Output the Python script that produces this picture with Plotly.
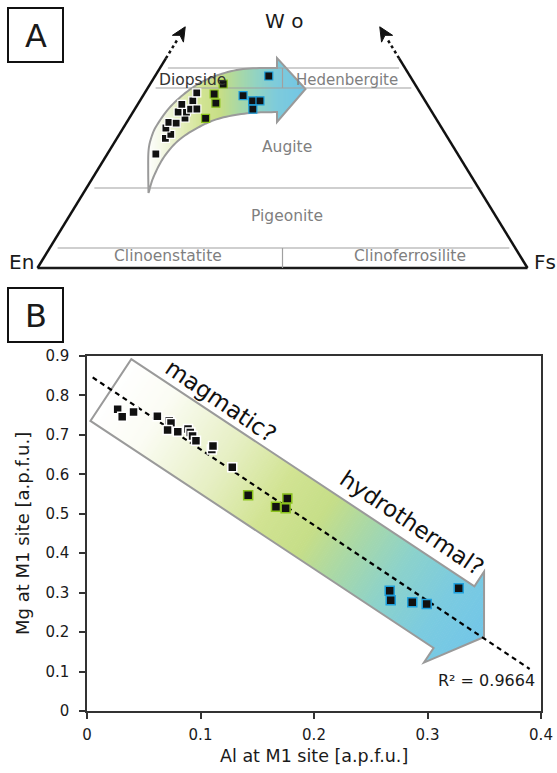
import numpy as np
import plotly.graph_objects as go

FIG_W, FIG_H = 557, 773

# ---------------- Panel A: clinopyroxene compositions (mol %) ----------------
wo_magmatic = [28.5, 32.4, 33.4, 35.0, 36.4, 36.2, 37.5, 39.0, 39.0, 40.9, 41.8, 39.7, 39.75, 43.8]
en_magmatic = [61.6, 57.7, 56.1, 56.3, 55.0, 53.6, 51.15, 51.8, 50.1, 50.1, 47.4, 48.9, 47.6, 45.6]
fs_magmatic = [9.9, 9.9, 10.5, 8.7, 8.6, 10.2, 11.35, 9.2, 10.9, 9.0, 10.8, 11.4, 12.65, 10.6]

wo_transitional = [43.5, 46.0, 41.2, 37.4]
en_transitional = [42.2, 39.1, 43.0, 47.0]
fs_transitional = [14.3, 14.9, 15.8, 15.6]

wo_hydrothermal = [48.0, 43.1, 41.8, 41.8, 39.7]
en_hydrothermal = [28.8, 36.5, 35.2, 33.7, 36.2]
fs_hydrothermal = [23.2, 20.4, 23.0, 24.5, 24.1]

# Field boundaries of the pyroxene quadrilateral (Wo mol %)
field_wo_levels = [5, 20, 45, 50]
field_names = ["Diopside", "Hedenbergite", "Augite", "Pigeonite", "Clinoenstatite", "Clinoferrosilite"]

# ---------------- Panel B: Al vs Mg at the M1 site (a.p.f.u.) ----------------
al_m1_magmatic = [0.027, 0.031, 0.041, 0.062, 0.0725, 0.074, 0.071, 0.080, 0.089, 0.091,
                  0.093, 0.096, 0.110, 0.111, 0.128]
mg_m1_magmatic = [0.765, 0.746, 0.758, 0.747, 0.736, 0.730, 0.7125, 0.708, 0.715, 0.706,
                  0.697, 0.685, 0.663, 0.672, 0.618]
al_m1_transitional = [0.142, 0.1665, 0.1765, 0.175]
mg_m1_transitional = [0.547, 0.518, 0.539, 0.514]
al_m1_hydrothermal = [0.2667, 0.2676, 0.2866, 0.2993, 0.3275]
mg_m1_hydrothermal = [0.305, 0.281, 0.276, 0.271, 0.311]
r_squared_text = "R² = 0.9664"

x_ticks_b = [0, 0.1, 0.2, 0.3, 0.4]
y_ticks_b = [0, 0.1, 0.2, 0.3, 0.4, 0.5, 0.6, 0.7, 0.8, 0.9]

FONT = "DejaVu Sans"
OUTLINE_WHITE = "#ffffff"
OUTLINE_GREEN = "#8cc31e"
OUTLINE_BLUE = "#1e9fdc"
ARROW_EDGE = "#9a9a9a"


# ---------------- geometry helpers (page pixels -> paper) ----------------
def px2paper(px, py):
    return px / FIG_W, 1.0 - py / FIG_H


def svg_path(points):
    pts = [px2paper(x, y) for x, y in points]
    return "M" + "L".join(f"{x:.5f},{y:.5f}" for x, y in pts) + "Z"


def hex2rgb(h):
    return tuple(int(h[i:i + 2], 16) for i in (1, 3, 5))


def ramp(stops, v):
    pos = [s[0] for s in stops]
    cols = np.array([hex2rgb(s[1]) for s in stops], float)
    r, g, b = (np.interp(v, pos, cols[:, k]) for k in range(3))
    return f"rgb({r:.0f},{g:.0f},{b:.0f})"


def catmull_rom(pts, n=10):
    pts = np.asarray(pts, float)
    ext = np.vstack([2 * pts[0] - pts[1], pts, 2 * pts[-1] - pts[-2]])
    out = []
    for i in range(1, len(ext) - 2):
        p0, p1, p2, p3 = ext[i - 1], ext[i], ext[i + 1], ext[i + 2]
        for t in np.linspace(0, 1, n, endpoint=False):
            t2, t3 = t * t, t * t * t
            p = 0.5 * (2 * p1 + (-p0 + p2) * t + (2 * p0 - 5 * p1 + 4 * p2 - p3) * t2
                       + (-p0 + 3 * p1 - 3 * p2 + p3) * t3)
            out.append((float(p[0]), float(p[1])))
    out.append((float(pts[-1][0]), float(pts[-1][1])))
    return out


def clip_slab(poly, a, b):
    def clip(poly, inside, edge_x):
        out = []
        for i in range(len(poly)):
            cur, prev = poly[i], poly[i - 1]
            def inter(p, q):
                t = (edge_x - p[0]) / (q[0] - p[0])
                return (edge_x, p[1] + t * (q[1] - p[1]))
            if inside(cur):
                if not inside(prev):
                    out.append(inter(prev, cur))
                out.append(cur)
            elif inside(prev):
                out.append(inter(prev, cur))
        return out
    poly = clip(poly, lambda p: p[0] >= a, a)
    if len(poly) < 3:
        return []
    poly = clip(poly, lambda p: p[0] <= b, b)
    return poly if len(poly) >= 3 else []


shapes = []
annotations = []

# ---------------- Panel A: curved gradient arrow ----------------
outer_edge = catmull_rom([(148.5, 193), (148.2, 170), (148.6, 150), (151.5, 137), (157, 125),
                          (171, 106), (192, 88), (214, 76.5), (243, 69), (277, 68)])
inner_edge = catmull_rom([(148.5, 193), (153.5, 177), (164, 157), (179, 140), (200, 126.5),
                          (221, 118), (250, 113), (277, 112)])
head_a = [(277, 58), (305.5, 89), (277, 122)]
curved_arrow = outer_edge + head_a + inner_edge[::-1]

stops_a = [(147, "#ffffff"), (163, "#f3f7e4"), (183, "#e3edba"), (203, "#d1e392"),
           (220, "#c7de86"), (238, "#aad8a4"), (256, "#92d3c2"), (276, "#7ecbdb"), (306, "#72c5e6")]
for a in np.arange(146.5, 306.5, 1.5):
    piece = clip_slab(curved_arrow, a, a + 2.1)
    if piece:
        shapes.append(dict(type="path", xref="paper", yref="paper", layer="below",
                           path=svg_path(piece), fillcolor=ramp(stops_a, a + 0.75),
                           line=dict(width=0)))
shapes.append(dict(type="path", xref="paper", yref="paper", layer="below",
                   path=svg_path(curved_arrow), fillcolor="rgba(0,0,0,0)",
                   line=dict(color=ARROW_EDGE, width=2)))

# ---------------- Panel B: straight gradient arrow ----------------
tail_mid = np.array([110.85, 390.0])
ang = np.deg2rad(33.5)
d_vec = np.array([np.cos(ang), np.sin(ang)])
n_vec = np.array([-np.sin(ang), np.cos(ang)])
half_w, shaft_len, head_half, head_len = 37.0, 411.5, 54.5, 36.0


def loc(u, v):
    p = tail_mid + u * d_vec + v * n_vec
    return float(p[0]), float(p[1])


def head_w(u):
    return head_half * max(0.0, 1 - (u - shaft_len) / head_len)


total_len = shaft_len + head_len
stops_b = [(0.0, "#ffffff"), (0.12, "#fbfcf4"), (0.3, "#e6efc3"), (0.44, "#d1e392"),
           (0.55, "#c6de88"), (0.65, "#a8d8a8"), (0.76, "#8cd2cb"), (0.88, "#7bcbe0"), (1.0, "#72c6e8")]
for u0 in np.arange(0, shaft_len, 2.0):
    u1 = min(u0 + 2.6, shaft_len + 0.6)
    quad = [loc(u0, -half_w), loc(u1, -half_w), loc(u1, half_w), loc(u0, half_w)]
    shapes.append(dict(type="path", xref="paper", yref="paper", layer="below",
                       path=svg_path(quad), fillcolor=ramp(stops_b, (u0 + 1) / total_len),
                       line=dict(width=0)))
for u0 in np.arange(shaft_len, total_len, 2.0):
    u1 = min(u0 + 2.6, total_len)
    quad = [loc(u0, -head_w(u0)), loc(u1, -head_w(u1)), loc(u1, head_w(u1)), loc(u0, head_w(u0))]
    shapes.append(dict(type="path", xref="paper", yref="paper", layer="below",
                       path=svg_path(quad), fillcolor=ramp(stops_b, (u0 + 1) / total_len),
                       line=dict(width=0)))
straight_arrow = [loc(0, -half_w), loc(shaft_len, -half_w), loc(shaft_len, -head_half),
                  loc(total_len, 0), loc(shaft_len, head_half), loc(shaft_len, half_w), loc(0, half_w)]
shapes.append(dict(type="path", xref="paper", yref="paper", layer="below",
                   path=svg_path(straight_arrow), fillcolor="rgba(0,0,0,0)",
                   line=dict(color=ARROW_EDGE, width=2)))

# ---------------- Panel A: ternary frame on axes x2/y2 ----------------
# plot coords: x = Fs + Wo/2, y = Wo ; En at (0,0), Fs at (100,0)
A_PX_EN, A_PX_FS = 37.5, 527.5
A_PY_BASE, A_PX_PER_WO = 268.0, 4.0
ax_px_per_x = (A_PX_FS - A_PX_EN) / 100.0


def a_to_px(x, y):
    return A_PX_EN + ax_px_per_x * x, A_PY_BASE - A_PX_PER_WO * y


def tern(wo, en, fs):
    tot = np.array(wo) + np.array(en) + np.array(fs)
    wo_n = 100 * np.array(wo) / tot
    fs_n = 100 * np.array(fs) / tot
    return fs_n + wo_n / 2, wo_n


def aline(x0, y0, x1, y1, color, width, dash="solid"):
    shapes.append(dict(type="line", xref="x2", yref="y2", layer="below", x0=x0, y0=y0, x1=x1, y1=y1,
                       line=dict(color=color, width=width, dash=dash)))


# sides and base
solid_top, dash_top, tip_wo = 52.4, 57.0, 60.3
aline(0, 0, 100, 0, "#1a1a1a", 2.5)
aline(0, 0, solid_top / 2, solid_top, "#111111", 2.5)
aline(100, 0, 100 - solid_top / 2, solid_top, "#111111", 2.5)
aline(solid_top / 2, solid_top, dash_top / 2, dash_top, "#111111", 2.5, "3px,3px")
aline(100 - solid_top / 2, solid_top, 100 - dash_top / 2, dash_top, "#111111", 2.5, "3px,3px")

# arrowheads at the top of both sides
for base_x, sgn in ((0, 1), (100, -1)):
    tip = np.array(a_to_px(base_x + sgn * tip_wo / 2, tip_wo))
    foot = np.array(a_to_px(base_x + sgn * solid_top / 2, solid_top))
    dv = (tip - foot) / np.linalg.norm(tip - foot)
    nv = np.array([-dv[1], dv[0]])
    L, hw, notch = 14.0, 6.5, 4.0
    head = [tuple(tip), tuple(tip - L * dv + hw * nv), tuple(tip - (L - notch) * dv),
            tuple(tip - L * dv - hw * nv)]
    shapes.append(dict(type="path", xref="paper", yref="paper", path=svg_path(head),
                       fillcolor="#111111", line=dict(color="#111111", width=1)))

# field boundaries
for wo in field_wo_levels:
    left = wo / 2 + 1.6
    right = 100 - wo / 2 - 1.2
    aline(left, wo, right, wo, "#a0a0a0", 1.2)
aline(50, 0, 50, 5, "#a0a0a0", 1.2)
aline(50, 45, 50, 50, "#a0a0a0", 1.2)

# ---------------- traces ----------------
fig = go.Figure()


def a_marker(outline):
    return dict(symbol="square", size=8, color="#111111", line=dict(color=outline, width=1.2))


for wo, en, fs, oc in ((wo_magmatic, en_magmatic, fs_magmatic, OUTLINE_WHITE),
                       (wo_transitional, en_transitional, fs_transitional, OUTLINE_GREEN),
                       (wo_hydrothermal, en_hydrothermal, fs_hydrothermal, OUTLINE_BLUE)):
    xx, yy = tern(wo, en, fs)
    fig.add_trace(go.Scatter(x=xx, y=yy, mode="markers", marker=a_marker(oc),
                             xaxis="x2", yaxis="y2", hoverinfo="skip"))

# regression through all M1 analyses
al_all = np.array(al_m1_magmatic + al_m1_transitional + al_m1_hydrothermal)
mg_all = np.array(mg_m1_magmatic + mg_m1_transitional + mg_m1_hydrothermal)
slope, intercept = np.polyfit(al_all, mg_all, 1)
x_fit = np.array([0.005, 0.39])
fig.add_trace(go.Scatter(x=x_fit, y=intercept + slope * x_fit, mode="lines",
                         line=dict(color="#000000", width=2.2, dash="5px,4px"),
                         xaxis="x", yaxis="y", hoverinfo="skip"))


def b_marker(outline):
    return dict(symbol="square", size=9, color="#111111", line=dict(color=outline, width=1.5))


for xs, ys, oc in ((al_m1_magmatic, mg_m1_magmatic, OUTLINE_WHITE),
                   (al_m1_transitional, mg_m1_transitional, OUTLINE_GREEN),
                   (al_m1_hydrothermal, mg_m1_hydrothermal, OUTLINE_BLUE)):
    fig.add_trace(go.Scatter(x=xs, y=ys, mode="markers", marker=b_marker(oc),
                             xaxis="x", yaxis="y", hoverinfo="skip"))

# ---------------- panel letter boxes ----------------
for y0, y1 in ((8, 62), (288, 342)):
    p0 = px2paper(8, y1)
    p1 = px2paper(63, y0)
    shapes.append(dict(type="rect", xref="paper", yref="paper", x0=p0[0], y0=p0[1], x1=p1[0], y1=p1[1],
                       line=dict(color="#111111", width=2), fillcolor="rgba(0,0,0,0)"))


def label(text, px, py, size, color="#1a1a1a", angle=0, bg=None):
    x, y = px2paper(px, py)
    a = dict(text=text, x=x, y=y, xref="paper", yref="paper", showarrow=False,
             xanchor="center", yanchor="middle", textangle=angle,
             font=dict(family=FONT, size=size, color=color))
    if bg:
        a["bgcolor"] = bg
    annotations.append(a)


label("A", 35.5, 36, 32)
label("B", 35.5, 316, 32)
label("W o", 284, 21, 20)
label("En", 21.5, 262, 20)
label("Fs", 545, 262, 20)
label(field_names[0], 192.5, 80, 15.5, "#333333")
label(field_names[1], 347, 80, 15, "#7f7f7f")
label(field_names[2], 286.5, 147, 15.5, "#7f7f7f")
label(field_names[3], 287, 216.5, 15.5, "#7f7f7f")
label(field_names[4], 167.5, 256, 15.5, "#7f7f7f")
label(field_names[5], 410, 256, 15.5, "#7f7f7f")

label("magmatic?", 221, 401, 23, "#111111", angle=34)
label("hydrothermal?", 412, 523, 23, "#111111", angle=34, bg="#ffffff")
label(r_squared_text, 486, 680, 16, "#1a1a1a")
label("Mg at M1 site [a.p.f.u.]", 22, 534, 18, "#1a1a1a", angle=-90)
label("Al at M1 site [a.p.f.u.]", 314, 756, 17.5, "#1a1a1a")

# ---------------- layout ----------------
bx0, by_top = px2paper(87, 356)
bx1, by_bot = px2paper(541, 711)
ax0, ay_top = px2paper(A_PX_EN - 5 * ax_px_per_x, A_PY_BASE - 60 * A_PX_PER_WO)
ax1, ay_bot = px2paper(A_PX_FS + 5 * ax_px_per_x, A_PY_BASE + 5 * A_PX_PER_WO)

axis_common = dict(showline=True, mirror=True, linecolor="#333333", linewidth=1.5,
                   ticks="outside", ticklen=6, tickwidth=1.5, tickcolor="#333333",
                   showgrid=False, zeroline=False, automargin=False,
                   tickfont=dict(family=FONT, size=15, color="#1a1a1a"))

fig.update_layout(
    width=FIG_W, height=FIG_H,
    margin=dict(l=0, r=0, t=0, b=0, pad=0, autoexpand=False),
    paper_bgcolor="white", plot_bgcolor="rgba(0,0,0,0)",
    showlegend=False,
    font=dict(family=FONT, color="#1a1a1a"),
    xaxis=dict(domain=[bx0, bx1], range=[0, 0.4], tickvals=x_ticks_b,
               ticktext=[f"{v:g}" for v in x_ticks_b], anchor="y", ticklabelstandoff=3,
               **axis_common),
    yaxis=dict(domain=[by_bot, by_top], range=[0, 0.9], tickvals=y_ticks_b,
               ticktext=[f"{v:g}" for v in y_ticks_b], anchor="x", ticklabelstandoff=7,
               **axis_common),
    xaxis2=dict(domain=[ax0, ax1], range=[-5, 105], visible=False, anchor="y2",
                fixedrange=True, automargin=False),
    yaxis2=dict(domain=[ay_bot, ay_top], range=[-5, 60], visible=False, anchor="x2",
                fixedrange=True, automargin=False),
    shapes=shapes,
    annotations=annotations,
)

fig.write_html("out.html")
